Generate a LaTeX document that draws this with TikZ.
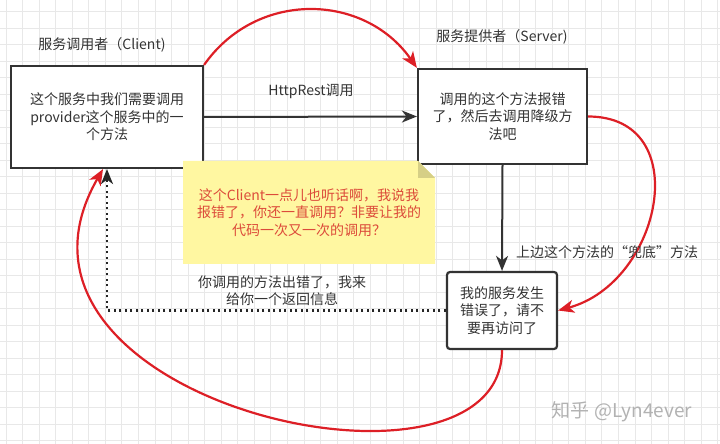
\documentclass[tikz,border=0pt]{standalone}
\usepackage{fontspec}
\setmainfont{Noto Sans CJK SC}
\usetikzlibrary{arrows.meta, calc}
\definecolor{boxline}{HTML}{333333}
\definecolor{textgray}{HTML}{333333}
\definecolor{gridgray}{HTML}{E8E8E8}
\definecolor{notebg}{HTML}{FFF7A1}
\definecolor{notefold}{HTML}{D6CF86}
\definecolor{notered}{HTML}{DC4B3A}
\definecolor{curvered}{HTML}{DD1F26}
\tikzset{
  gridline/.style={
    draw=gridgray,
    line width=0.8pt
  },
  box/.style={
    draw=boxline,
    line width=2.2pt,
    fill=white,
    text=textgray,
    align=center,
    inner sep=0pt,
    font=\fontsize{14}{17.5}\selectfont
  },
  plaintext/.style={
    text=textgray,
    align=center,
    inner sep=0pt,
    font=\fontsize{14}{17.5}\selectfont
  },
  notetext/.style={
    text=notered,
    align=center,
    inner sep=0pt,
    font=\fontsize{14}{17.5}\selectfont
  },
  flow/.style={
    -{Stealth[length=15pt, width=12pt, inset=4.5pt]},
    draw=boxline,
    line width=2pt
  },
  backflow/.style={
    -{Stealth[length=15pt, width=12pt, inset=4.5pt]},
    draw=black!85,
    line width=2.2pt,
    dash pattern=on 2pt off 3.5pt
  },
  redflow/.style={
    -{Stealth[length=16pt, width=13pt, inset=4.5pt]},
    draw=curvered,
    fill=none,
    line width=2.2pt
  },
  watermark/.style={
    text=black!30,
    inner sep=0pt,
    font=\fontsize{19}{22}\selectfont
  }
}

\begin{document}
\begin{tikzpicture}[x=1pt, y=1pt]
  \useasboundingbox (0,0) rectangle (720,444);
  % 背景网格
  \foreach \i in {0,...,43}
    \draw[gridline] ({6+16.55*\i},0) -- ({6+16.55*\i},444);
  \foreach \j in {0,...,26}
    \draw[gridline] (0,{432.3-16.5*\j}) -- (720,{432.3-16.5*\j});

  % 三个方框
  \node[box, minimum width=192pt, minimum height=102pt] (client) at (107,327)
    {这个服务中我们需要调用\\provider这个服务中的一\\个方法};
  \node[box, minimum width=169pt, minimum height=95pt] (server) at (502.5,327.5)
    {调用的这个方法报错\\了，然后去调用降级方\\法吧};
  \node[box, rounded corners=3pt, minimum width=110pt, minimum height=77pt] (fallback) at (502,133.5)
    {我的服务发生\\错误了，请不\\要再访问了};

  % 标题
  \node[plaintext] (clientTitle) at (102,399) {服务调用者（Client)};
  \node[plaintext] (serverTitle) at (502,407) {服务提供者（Server)};

  % 便签
  \fill[notebg] (183,180) -- (435,180) -- (435,266) -- (418,283) -- (183,283) -- cycle;
  \fill[notefold] (418,283) -- (418,266) -- (435,266) -- cycle;
  \node[notetext] (note) at (309,231.5)
    {这个Client一点儿也听话啊，我说我\\报错了，你还一直调用？非要让我的\\代码一次又一次的调用？};

  % 红色曲线
  \draw[redflow] (client.north east) to[out=55, in=125, looseness=1.1] (server.north west);
  \draw[redflow] (server.east) to[out=0, in=15, looseness=1.4] (fallback.east);
  \draw[redflow] (fallback.south) to[out=-90, in=240, out distance=170pt, in distance=270pt]
    ([xshift=-4pt]client.south);

  % 调用与返回
  \draw[flow] (client.east) -- (server.west);
  \node[plaintext] (httpLabel) at (311,353) {HttpRest调用};
  \draw[flow] (server.south) -- (fallback.north);
  \node[plaintext] (fallbackLabel) at (607,192) {上边这个方法的“兜底”方法};
  \draw[backflow] (fallback.west) -| (client.south);
  \node[plaintext] (backLabel) at (282,153.5) {你调用的方法出错了，我来\\给你一个返回信息};

  \node[watermark] (zhihu) at (622,32) {知乎 @Lyn4ever};
\end{tikzpicture}
\end{document}
